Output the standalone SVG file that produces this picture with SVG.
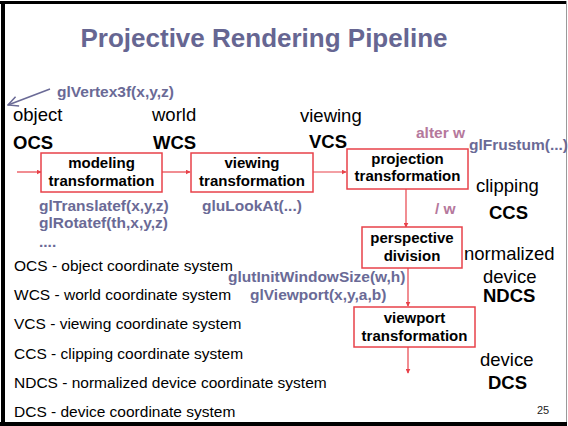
<svg xmlns="http://www.w3.org/2000/svg" width="568" height="426" viewBox="0 0 568 426">
  <style>
    .t { font-family: "Liberation Sans", Arial, sans-serif; }
    .title { font-size: 26px; font-weight: bold; fill: #666692; }
    .lab { font-size: 18.5px; fill: #000; }
    .labb { font-size: 18.5px; font-weight: bold; fill: #000; }
    .gl { font-size: 15.5px; font-weight: bold; fill: #6a6a96; }
    .pk { font-size: 15.5px; font-weight: bold; fill: #b5789c; }
    .leg { font-size: 15.5px; fill: #000; }
    .box { fill: #fff; stroke: #e8424a; stroke-width: 1.5; }
    .bt { font-size: 15px; font-weight: bold; fill: #000; text-anchor: middle; }
    .wire { stroke: #e8424a; stroke-width: 1.2; fill: none; marker-end: url(#ah); }
  </style>
  <defs>
    <marker id="ah" viewBox="0 0 8 8" refX="7" refY="4" markerWidth="5" markerHeight="5" orient="auto" markerUnits="userSpaceOnUse">
      <path d="M0,0 L8,4 L0,8 Z" fill="#e8424a"/>
    </marker>
    <marker id="open" viewBox="0 0 12 12" refX="11" refY="6" markerWidth="12" markerHeight="12" orient="auto" markerUnits="userSpaceOnUse">
      <path d="M1,1 L11,6 L1,11" fill="none" stroke="#6a6a96" stroke-width="1.5"/>
    </marker>
  </defs>

  <!-- slide frame -->
  <rect x="0" y="0" width="568" height="426" fill="#fff"/>
  <rect x="0" y="1" width="567" height="3" fill="#000"/>
  <rect x="1" y="1" width="4" height="425" fill="#000"/>
  <rect x="0" y="422" width="567" height="4" fill="#000"/>
  <line x1="566.5" y1="1" x2="566.5" y2="422" stroke="#9a9a9a" stroke-width="1"/>

  <text class="t title" x="264" y="47" text-anchor="middle">Projective Rendering Pipeline</text>

  <!-- vertex call pointing into the pipeline -->
  <g id="vertex-call">
    <line x1="50" y1="89" x2="8" y2="105" stroke="#6a6a96" stroke-width="1.5" marker-end="url(#open)"/>
    <text class="t gl" x="57" y="97">glVertex3f(x,y,z)</text>
  </g>

  <!-- coordinate system labels -->
  <g id="ocs"><text class="t lab" x="13" y="121">object</text><text class="t labb" x="13" y="149">OCS</text></g>
  <g id="wcs"><text class="t lab" x="152" y="121">world</text><text class="t labb" x="153" y="149">WCS</text></g>
  <g id="vcs"><text class="t lab" x="300" y="122">viewing</text><text class="t labb" x="309" y="148">VCS</text></g>
  <g id="ccs"><text class="t lab" x="476" y="192">clipping</text><text class="t labb" x="489" y="219">CCS</text></g>
  <g id="ndcs"><text class="t lab" x="464" y="260">normalized</text><text class="t lab" x="483" y="283">device</text><text class="t labb" x="483" y="302">NDCS</text></g>
  <g id="dcs"><text class="t lab" x="480" y="366">device</text><text class="t labb" x="488" y="389">DCS</text></g>

  <!-- connectors -->
  <g id="connectors">
    <line class="wire" x1="17" y1="172" x2="41" y2="172"/>
    <line class="wire" x1="162" y1="172" x2="190" y2="172"/>
    <line class="wire" x1="313" y1="172" x2="346" y2="172"/>
    <line class="wire" x1="406" y1="189" x2="406" y2="227"/>
    <line class="wire" x1="408" y1="268" x2="408" y2="306"/>
    <line class="wire" x1="408" y1="347" x2="408" y2="373"/>
  </g>

  <!-- pipeline stages -->
  <g id="modeling">
    <rect class="box" x="41" y="153" width="121" height="39"/>
    <text class="t bt" x="101.5" y="168">modeling</text>
    <text class="t bt" x="101.5" y="186">transformation</text>
  </g>
  <g id="viewing">
    <rect class="box" x="191" y="153" width="122" height="39"/>
    <text class="t bt" x="252" y="168">viewing</text>
    <text class="t bt" x="252" y="186">transformation</text>
  </g>
  <g id="projection">
    <rect class="box" x="347" y="149" width="121" height="40"/>
    <text class="t bt" x="407.5" y="164">projection</text>
    <text class="t bt" x="407.5" y="181">transformation</text>
  </g>
  <g id="perspective">
    <rect class="box" x="362" y="227" width="100" height="41"/>
    <text class="t bt" x="412" y="243">perspective</text>
    <text class="t bt" x="412" y="261">division</text>
  </g>
  <g id="viewport">
    <rect class="box" x="354" y="307" width="121" height="40"/>
    <text class="t bt" x="414.5" y="323">viewport</text>
    <text class="t bt" x="414.5" y="341">transformation</text>
  </g>

  <!-- API calls -->
  <text class="t gl" x="39" y="211">glTranslatef(x,y,z)</text>
  <text class="t gl" x="39" y="228">glRotatef(th,x,y,z)</text>
  <text class="t gl" x="39" y="247">....</text>
  <text class="t gl" x="202" y="211">gluLookAt(...)</text>
  <text class="t gl" x="469" y="150">glFrustum(...)</text>
  <text class="t pk" x="416" y="138">alter w</text>
  <text class="t pk" x="435" y="214">/ w</text>
  <text class="t gl" x="228" y="282">glutInitWindowSize(w,h)</text>
  <text class="t gl" x="250" y="300">glViewport(x,y,a,b)</text>

  <!-- legend -->
  <text class="t leg" x="14" y="271">OCS - object coordinate system</text>
  <text class="t leg" x="14" y="300">WCS - world coordinate system</text>
  <text class="t leg" x="14" y="329">VCS - viewing coordinate system</text>
  <text class="t leg" x="14" y="359">CCS - clipping coordinate system</text>
  <text class="t leg" x="14" y="388">NDCS - normalized device coordinate system</text>
  <text class="t leg" x="14" y="417">DCS - device coordinate system</text>

  <text class="t" x="537" y="414" font-size="11" fill="#222">25</text>
</svg>
